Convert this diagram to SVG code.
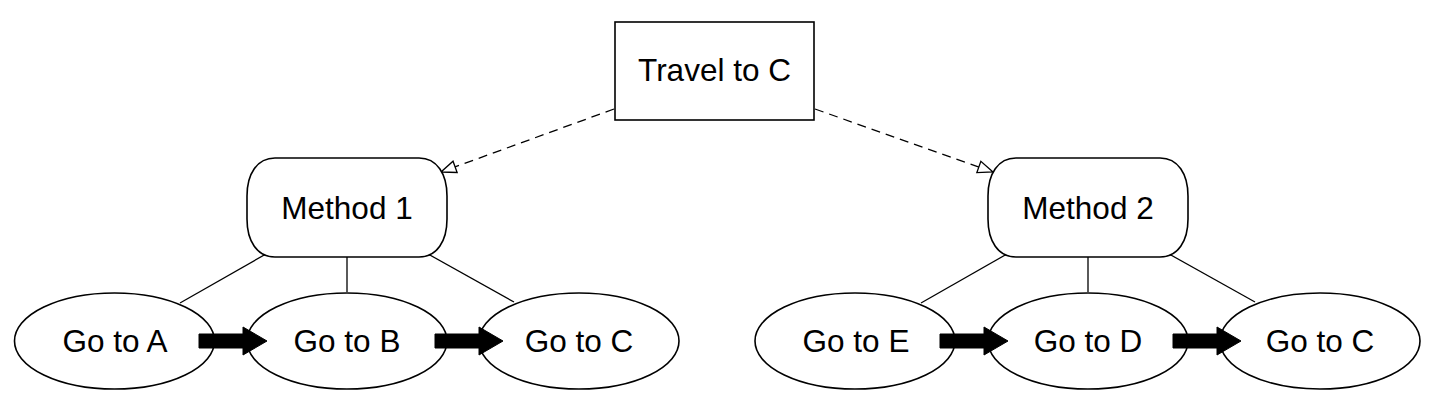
<svg xmlns="http://www.w3.org/2000/svg" width="1436" height="406" viewBox="0 0 1436 406">
<style>
.shape{fill:#fff;stroke:#000;stroke-width:1.6}
.lbl{font-family:"Liberation Sans",Arial,Helvetica,sans-serif;font-size:31.5px;fill:#000;text-anchor:middle}
.link{fill:none;stroke:#000;stroke-width:1.3}
.dash{fill:none;stroke:#000;stroke-width:1.3;stroke-dasharray:9 6}
.block{fill:#000;stroke:#000;stroke-width:1}
</style>
<defs>
<marker id="open" markerUnits="userSpaceOnUse" viewBox="-17 -8 19 16" refX="0" refY="0" markerWidth="19" markerHeight="16" orient="auto">
<path d="M0,0 L-15,-6 L-15,6 Z" fill="#fff" stroke="#000" stroke-width="1.3"/>
</marker>
</defs>
<rect width="1436" height="406" fill="#fff"/>
<g id="connectors">
<path class="dash" d="M614,109 L441,172" marker-end="url(#open)"/>
<path class="dash" d="M815,109 L993,172" marker-end="url(#open)"/>
<path class="link" d="M266,254 L180,303"/>
<path class="link" d="M347,257 L347,292"/>
<path class="link" d="M428,254 L514,302"/>
<path class="link" d="M1007,254 L921,303"/>
<path class="link" d="M1088,257 L1088,292"/>
<path class="link" d="M1169,254 L1255,302"/>
</g>
<g id="travel">
<rect class="shape" x="615" y="22" width="199" height="98"/>
<text class="lbl" x="714.5" y="81">Travel to C</text>
</g>
<g id="method1">
<path class="shape" d="M275,158 H419 C437,158 447,174 447,196 V219 C447,241 437,257 419,257 H275 C257,257 247,241 247,219 V196 C247,174 257,158 275,158 Z"/>
<text class="lbl" x="347" y="219">Method 1</text>
</g>
<g id="method2">
<path class="shape" d="M1016,158 H1160 C1178,158 1188,174 1188,196 V219 C1188,241 1178,257 1160,257 H1016 C998,257 988,241 988,219 V196 C988,174 998,158 1016,158 Z"/>
<text class="lbl" x="1088" y="219">Method 2</text>
</g>
<g id="gotoA">
<ellipse class="shape" cx="114.5" cy="341" rx="100" ry="48"/>
<text class="lbl" x="115" y="352">Go to A</text>
</g>
<g id="gotoB">
<ellipse class="shape" cx="347" cy="341" rx="100" ry="48"/>
<text class="lbl" x="347" y="352">Go to B</text>
</g>
<g id="gotoC1">
<ellipse class="shape" cx="579" cy="341" rx="100" ry="48"/>
<text class="lbl" x="579" y="352">Go to C</text>
</g>
<g id="gotoE">
<ellipse class="shape" cx="855" cy="341" rx="100" ry="48"/>
<text class="lbl" x="856" y="352">Go to E</text>
</g>
<g id="gotoD">
<ellipse class="shape" cx="1088" cy="341" rx="100" ry="48"/>
<text class="lbl" x="1088" y="352">Go to D</text>
</g>
<g id="gotoC2">
<ellipse class="shape" cx="1320" cy="341" rx="100" ry="48"/>
<text class="lbl" x="1320" y="352">Go to C</text>
</g>
<g id="flow-arrows">
<polygon class="block" points="199,334 243,334 243,327 267,341 243,355 243,348 199,348"/>
<polygon class="block" points="435,334 479,334 479,327 503,341 479,355 479,348 435,348"/>
<polygon class="block" points="940,334 984,334 984,327 1008,341 984,355 984,348 940,348"/>
<polygon class="block" points="1173,334 1217,334 1217,327 1241,341 1217,355 1217,348 1173,348"/>
</g>
</svg>
